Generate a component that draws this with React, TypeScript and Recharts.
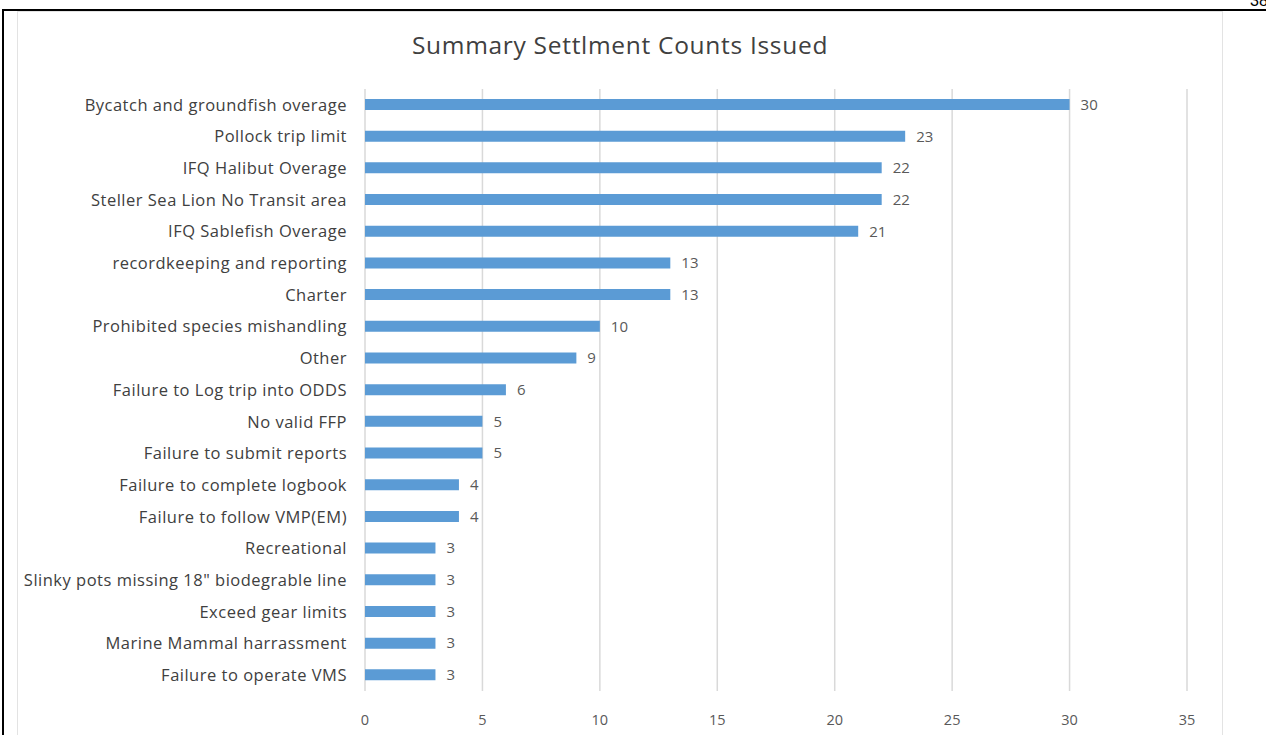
import React from 'react'
import { BarChart, Bar, XAxis, YAxis, CartesianGrid, LabelList } from 'recharts'

const categories = [
  'Bycatch and groundfish overage',
  'Pollock trip limit',
  'IFQ Halibut Overage',
  'Steller Sea Lion No Transit area',
  'IFQ Sablefish Overage',
  'recordkeeping and reporting',
  'Charter',
  'Prohibited species mishandling',
  'Other',
  'Failure to Log trip into ODDS',
  'No valid FFP',
  'Failure to submit reports',
  'Failure to complete logbook',
  'Failure to follow VMP(EM)',
  'Recreational',
  'Slinky pots missing 18" biodegrable line',
  'Exceed gear limits',
  'Marine Mammal harrassment',
  'Failure to operate VMS',
]
const counts = [30, 23, 22, 22, 21, 13, 13, 10, 9, 6, 5, 5, 4, 4, 3, 3, 3, 3, 3]
const xTicks = [0, 5, 10, 15, 20, 25, 30, 35]

const data = categories.map((name, i) => ({ name, count: counts[i] }))

const FONT = '"Open Sans", Lato, sans-serif'

export default function App() {
  return (
    <div style={{ position: 'fixed', left: 0, top: 0, width: 1266, height: 735, background: '#fff', overflow: 'hidden', fontFamily: FONT }}>
      <div style={{ position: 'absolute', left: 1250, top: -8, fontSize: 16, color: '#000', fontFamily: 'Arial, sans-serif' }}>38</div>
      <div style={{ position: 'absolute', left: 2, top: 9, width: 1264, height: 2, background: '#000' }} />
      <div style={{ position: 'absolute', left: 2, top: 9, width: 2, height: 726, background: '#000' }} />
      <div style={{ position: 'absolute', left: 17, top: 11, width: 1204, height: 730, border: '1px solid #e3e3e3' }} />
      <div style={{ position: 'absolute', left: 0, top: 28, width: 1240, textAlign: 'center', fontSize: 24.5, letterSpacing: 0.7, color: '#404040' }}>
        Summary Settlment Counts Issued
      </div>
      <div style={{ position: 'absolute', left: 0, top: 0 }}>
        <BarChart
          width={1266}
          height={735}
          data={data}
          layout="vertical"
          margin={{ top: 89, right: 79, bottom: 0, left: 0 }}
          barCategoryGap={10}
        >
          <CartesianGrid horizontal={false} stroke="#d9d9d9" strokeWidth={1.5} />
          <XAxis
            type="number"
            domain={[0, 35]}
            ticks={xTicks}
            height={44}
            axisLine={false}
            tickLine={false}
            tickMargin={18}
            tick={{ fill: '#595959', fontSize: 14.5, fontFamily: FONT }}
          />
          <YAxis
            type="category"
            dataKey="name"
            width={365}
            axisLine={false}
            tickLine={false}
            tickMargin={12}
            interval={0}
            tick={{ fill: '#404040', fontSize: 16.5, fontFamily: FONT, letterSpacing: 0.5 }}
          />
          <Bar dataKey="count" fill="#5b9bd5" barSize={11} isAnimationActive={false}>
            <LabelList dataKey="count" position="right" offset={11} fill="#595959" fontSize={15} fontFamily={FONT} />
          </Bar>
        </BarChart>
      </div>
    </div>
  )
}
